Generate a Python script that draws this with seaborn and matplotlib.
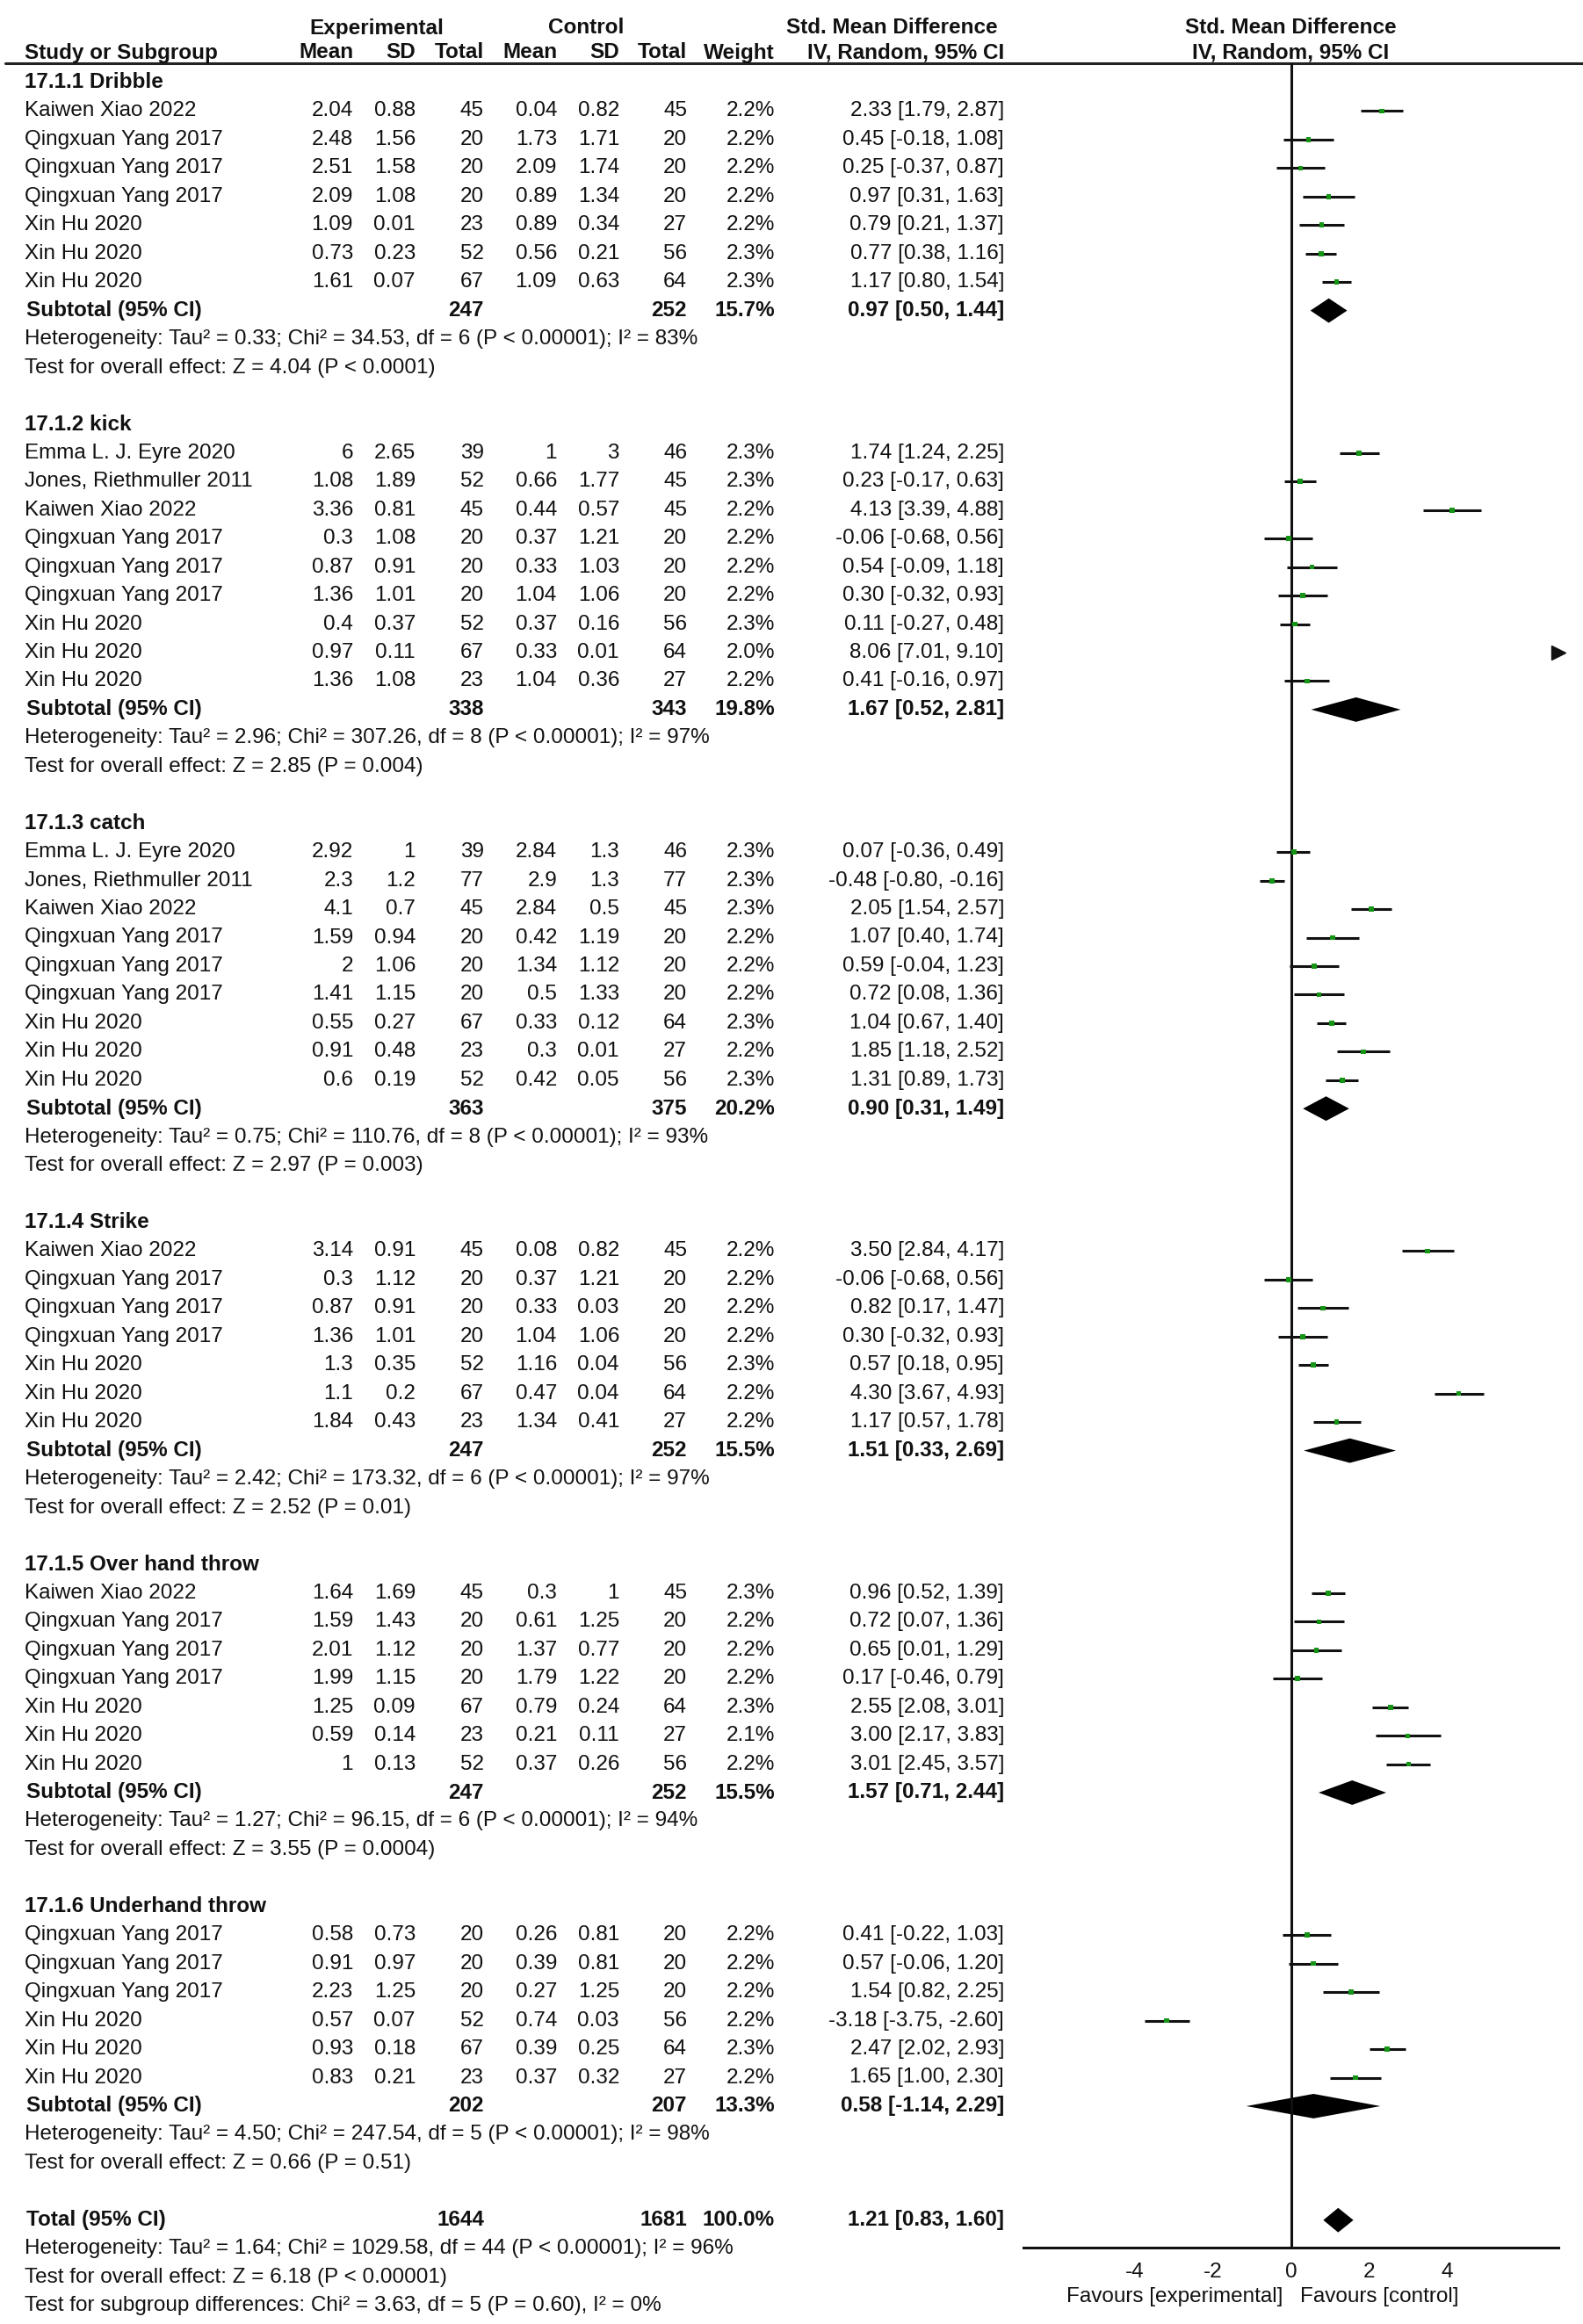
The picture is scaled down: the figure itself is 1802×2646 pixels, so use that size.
import numpy as np
import pandas as pd
import seaborn as sns
import matplotlib.pyplot as plt

# ---- data ----
group_titles = ["17.1.1 Dribble", "17.1.2 kick", "17.1.3 catch",
                "17.1.4 Strike", "17.1.5 Over hand throw", "17.1.6 Underhand throw"]
group_sizes = [7, 9, 9, 7, 7, 6]

study_names = [
    "Kaiwen Xiao 2022", "Qingxuan Yang 2017", "Qingxuan Yang 2017", "Qingxuan Yang 2017",
    "Xin Hu 2020", "Xin Hu 2020", "Xin Hu 2020",
    "Emma L. J. Eyre 2020", "Jones, Riethmuller 2011", "Kaiwen Xiao 2022", "Qingxuan Yang 2017",
    "Qingxuan Yang 2017", "Qingxuan Yang 2017", "Xin Hu 2020", "Xin Hu 2020", "Xin Hu 2020",
    "Emma L. J. Eyre 2020", "Jones, Riethmuller 2011", "Kaiwen Xiao 2022", "Qingxuan Yang 2017",
    "Qingxuan Yang 2017", "Qingxuan Yang 2017", "Xin Hu 2020", "Xin Hu 2020", "Xin Hu 2020",
    "Kaiwen Xiao 2022", "Qingxuan Yang 2017", "Qingxuan Yang 2017", "Qingxuan Yang 2017",
    "Xin Hu 2020", "Xin Hu 2020", "Xin Hu 2020",
    "Kaiwen Xiao 2022", "Qingxuan Yang 2017", "Qingxuan Yang 2017", "Qingxuan Yang 2017",
    "Xin Hu 2020", "Xin Hu 2020", "Xin Hu 2020",
    "Qingxuan Yang 2017", "Qingxuan Yang 2017", "Qingxuan Yang 2017",
    "Xin Hu 2020", "Xin Hu 2020", "Xin Hu 2020",
]
exp_mean = [2.04, 2.48, 2.51, 2.09, 1.09, 0.73, 1.61,
            6, 1.08, 3.36, 0.3, 0.87, 1.36, 0.4, 0.97, 1.36,
            2.92, 2.3, 4.1, 1.59, 2, 1.41, 0.55, 0.91, 0.6,
            3.14, 0.3, 0.87, 1.36, 1.3, 1.1, 1.84,
            1.64, 1.59, 2.01, 1.99, 1.25, 0.59, 1,
            0.58, 0.91, 2.23, 0.57, 0.93, 0.83]
exp_sd = [0.88, 1.56, 1.58, 1.08, 0.01, 0.23, 0.07,
          2.65, 1.89, 0.81, 1.08, 0.91, 1.01, 0.37, 0.11, 1.08,
          1, 1.2, 0.7, 0.94, 1.06, 1.15, 0.27, 0.48, 0.19,
          0.91, 1.12, 0.91, 1.01, 0.35, 0.2, 0.43,
          1.69, 1.43, 1.12, 1.15, 0.09, 0.14, 0.13,
          0.73, 0.97, 1.25, 0.07, 0.18, 0.21]
exp_n = [45, 20, 20, 20, 23, 52, 67,
         39, 52, 45, 20, 20, 20, 52, 67, 23,
         39, 77, 45, 20, 20, 20, 67, 23, 52,
         45, 20, 20, 20, 52, 67, 23,
         45, 20, 20, 20, 67, 23, 52,
         20, 20, 20, 52, 67, 23]
ctl_mean = [0.04, 1.73, 2.09, 0.89, 0.89, 0.56, 1.09,
            1, 0.66, 0.44, 0.37, 0.33, 1.04, 0.37, 0.33, 1.04,
            2.84, 2.9, 2.84, 0.42, 1.34, 0.5, 0.33, 0.3, 0.42,
            0.08, 0.37, 0.33, 1.04, 1.16, 0.47, 1.34,
            0.3, 0.61, 1.37, 1.79, 0.79, 0.21, 0.37,
            0.26, 0.39, 0.27, 0.74, 0.39, 0.37]
ctl_sd = [0.82, 1.71, 1.74, 1.34, 0.34, 0.21, 0.63,
          3, 1.77, 0.57, 1.21, 1.03, 1.06, 0.16, 0.01, 0.36,
          1.3, 1.3, 0.5, 1.19, 1.12, 1.33, 0.12, 0.01, 0.05,
          0.82, 1.21, 0.03, 1.06, 0.04, 0.04, 0.41,
          1, 1.25, 0.77, 1.22, 0.24, 0.11, 0.26,
          0.81, 0.81, 1.25, 0.03, 0.25, 0.32]
ctl_n = [45, 20, 20, 20, 27, 56, 64,
         46, 45, 45, 20, 20, 20, 56, 64, 27,
         46, 77, 45, 20, 20, 20, 64, 27, 56,
         45, 20, 20, 20, 56, 64, 27,
         45, 20, 20, 20, 64, 27, 56,
         20, 20, 20, 56, 64, 27]
weight = [2.2, 2.2, 2.2, 2.2, 2.2, 2.3, 2.3,
          2.3, 2.3, 2.2, 2.2, 2.2, 2.2, 2.3, 2.0, 2.2,
          2.3, 2.3, 2.3, 2.2, 2.2, 2.2, 2.3, 2.2, 2.3,
          2.2, 2.2, 2.2, 2.2, 2.3, 2.2, 2.2,
          2.3, 2.2, 2.2, 2.2, 2.3, 2.1, 2.2,
          2.2, 2.2, 2.2, 2.2, 2.3, 2.2]
smd = [2.33, 0.45, 0.25, 0.97, 0.79, 0.77, 1.17,
       1.74, 0.23, 4.13, -0.06, 0.54, 0.30, 0.11, 8.06, 0.41,
       0.07, -0.48, 2.05, 1.07, 0.59, 0.72, 1.04, 1.85, 1.31,
       3.50, -0.06, 0.82, 0.30, 0.57, 4.30, 1.17,
       0.96, 0.72, 0.65, 0.17, 2.55, 3.00, 3.01,
       0.41, 0.57, 1.54, -3.18, 2.47, 1.65]
ci_lo = [1.79, -0.18, -0.37, 0.31, 0.21, 0.38, 0.80,
         1.24, -0.17, 3.39, -0.68, -0.09, -0.32, -0.27, 7.01, -0.16,
         -0.36, -0.80, 1.54, 0.40, -0.04, 0.08, 0.67, 1.18, 0.89,
         2.84, -0.68, 0.17, -0.32, 0.18, 3.67, 0.57,
         0.52, 0.07, 0.01, -0.46, 2.08, 2.17, 2.45,
         -0.22, -0.06, 0.82, -3.75, 2.02, 1.00]
ci_hi = [2.87, 1.08, 0.87, 1.63, 1.37, 1.16, 1.54,
         2.25, 0.63, 4.88, 0.56, 1.18, 0.93, 0.48, 9.10, 0.97,
         0.49, -0.16, 2.57, 1.74, 1.23, 1.36, 1.40, 2.52, 1.73,
         4.17, 0.56, 1.47, 0.93, 0.95, 4.93, 1.78,
         1.39, 1.36, 1.29, 0.79, 3.01, 3.83, 3.57,
         1.03, 1.20, 2.25, -2.60, 2.93, 2.30]

sub_exp_n = [247, 338, 363, 247, 247, 202]
sub_ctl_n = [252, 343, 375, 252, 252, 207]
sub_weight = [15.7, 19.8, 20.2, 15.5, 15.5, 13.3]
sub_smd = [0.97, 1.67, 0.90, 1.51, 1.57, 0.58]
sub_lo = [0.50, 0.52, 0.31, 0.33, 0.71, -1.14]
sub_hi = [1.44, 2.81, 1.49, 2.69, 2.44, 2.29]
sub_tau2 = [0.33, 2.96, 0.75, 2.42, 1.27, 4.50]
sub_chi2 = [34.53, 307.26, 110.76, 173.32, 96.15, 247.54]
sub_df = [6, 8, 8, 6, 6, 5]
sub_i2 = [83, 97, 93, 97, 94, 98]
sub_z = [4.04, 2.85, 2.97, 2.52, 3.55, 0.66]
sub_p = ["P < 0.0001", "P = 0.004", "P = 0.003", "P = 0.01", "P = 0.0004", "P = 0.51"]

total_exp_n, total_ctl_n, total_weight = 1644, 1681, 100.0
total_smd, total_lo, total_hi = 1.21, 0.83, 1.60
total_het = "Heterogeneity: Tau² = 1.64; Chi² = 1029.58, df = 44 (P < 0.00001); I² = 96%"
total_test = "Test for overall effect: Z = 6.18 (P < 0.00001)"
subgroup_test = "Test for subgroup differences: Chi² = 3.63, df = 5 (P = 0.60), I² = 0%"

# ---- layout (pixels) ----
W, H = 1802, 2646
ROW0, PITCH = 94, 32.45
XMIN, XMAX = -6.85, 6.85
FS = 17.5


def prow(y):
    return (y - ROW0) / PITCH


# row index of every line of the table
title_rows, study_rows, sub_rows = [], [], []
r = 0
for n in group_sizes:
    title_rows.append(r)
    r += 1
    for k in range(n):
        study_rows.append(r)
        r += 1
    sub_rows.append(r)
    r += 4
total_row = r

df = pd.DataFrame({"name": study_names, "smd": smd, "lo": ci_lo, "hi": ci_hi,
                   "weight": weight, "row": study_rows})

sns.set_style("white")
plt.rcParams["font.family"] = ["Liberation Sans", "DejaVu Sans"]
plt.rcParams["axes.unicode_minus"] = False

fig = plt.figure(figsize=(W / 100, H / 100), dpi=100)

# table axes: x in pixels, y in rows
tab = fig.add_axes([0, 0, 1, 1])
tab.set_xlim(0, W)
tab.set_ylim(prow(H), prow(0))
tab.axis("off")

# forest axes
fx0, fx1, fy0, fy1 = 1165, 1774, 72, 2559
ax = fig.add_axes([fx0 / W, 1 - fy1 / H, (fx1 - fx0) / W, (fy1 - fy0) / H])
ax.set_xlim(XMIN, XMAX)
ax.set_ylim(prow(fy1), prow(fy0))
ax.patch.set_alpha(0)

col_name = 28
col_em, col_es, col_en = 402, 473, 551
col_cm, col_cs, col_cn = 634, 705, 782
col_w, col_ci = 882, 1143


def txt(x, row, s, ha="right", bold=False):
    tab.text(x, row, s, ha=ha, va="center", fontsize=FS,
             fontweight="bold" if bold else "normal", color="#111111")


def fmt_ci(e, lo, hi):
    return f"{e:.2f} [{lo:.2f}, {hi:.2f}]"


# header
h1, h2 = prow(32), prow(60)
txt(429, h1, "Experimental", ha="center", bold=True)
txt(667, h1, "Control", ha="center", bold=True)
txt(1015, h1, "Std. Mean Difference", ha="center", bold=True)
txt(1469, h1, "Std. Mean Difference", ha="center", bold=True)
txt(col_name, h2, "Study or Subgroup", ha="left", bold=True)
for x, s in [(col_em, "Mean"), (col_es, "SD"), (col_en, "Total"), (col_cm, "Mean"),
             (col_cs, "SD"), (col_cn, "Total"), (col_w, "Weight"), (col_ci, "IV, Random, 95% CI")]:
    txt(x, h2, s, bold=True)
txt(1469, h2, "IV, Random, 95% CI", ha="center", bold=True)
tab.axhline(prow(72), xmin=6 / W, xmax=1, color="#222222", lw=2.2)

# study rows
for i in range(len(study_names)):
    rr = study_rows[i]
    txt(col_name, rr, study_names[i], ha="left")
    txt(col_em, rr, f"{exp_mean[i]:g}")
    txt(col_es, rr, f"{exp_sd[i]:g}")
    txt(col_en, rr, f"{exp_n[i]}")
    txt(col_cm, rr, f"{ctl_mean[i]:g}")
    txt(col_cs, rr, f"{ctl_sd[i]:g}")
    txt(col_cn, rr, f"{ctl_n[i]}")
    txt(col_w, rr, f"{weight[i]:.1f}%")
    txt(col_ci, rr, fmt_ci(smd[i], ci_lo[i], ci_hi[i]))

# subgroup rows
for g in range(len(group_titles)):
    txt(col_name, title_rows[g], group_titles[g], ha="left", bold=True)
    sr = sub_rows[g]
    txt(col_name + 2, sr, "Subtotal (95% CI)", ha="left", bold=True)
    txt(col_en, sr, f"{sub_exp_n[g]}", bold=True)
    txt(col_cn, sr, f"{sub_ctl_n[g]}", bold=True)
    txt(col_w, sr, f"{sub_weight[g]:.1f}%", bold=True)
    txt(col_ci, sr, fmt_ci(sub_smd[g], sub_lo[g], sub_hi[g]), bold=True)
    txt(col_name, sr + 1, f"Heterogeneity: Tau² = {sub_tau2[g]:.2f}; Chi² = {sub_chi2[g]:.2f}, "
        f"df = {sub_df[g]} (P < 0.00001); I² = {sub_i2[g]}%", ha="left")
    txt(col_name, sr + 2, f"Test for overall effect: Z = {sub_z[g]:.2f} ({sub_p[g]})", ha="left")

# overall
txt(col_name + 2, total_row, "Total (95% CI)", ha="left", bold=True)
txt(col_en, total_row, f"{total_exp_n}", bold=True)
txt(col_cn, total_row, f"{total_ctl_n}", bold=True)
txt(col_w, total_row, f"{total_weight:.1f}%", bold=True)
txt(col_ci, total_row, fmt_ci(total_smd, total_lo, total_hi), bold=True)
txt(col_name, total_row + 1, total_het, ha="left")
txt(col_name, total_row + 2, total_test, ha="left")
txt(col_name, total_row + 3, subgroup_test, ha="left")

# ---- forest ----
ax.axvline(0, color="#111111", lw=2.2)
inside = df[df["lo"] < XMAX]
ax.hlines(inside["row"], inside["lo"].clip(XMIN, XMAX), inside["hi"].clip(XMIN, XMAX),
          color="#111111", lw=2.2)
sns.scatterplot(data=inside, x="smd", y="row", size="weight", sizes=(14, 18),
                marker="s", color="#169416", linewidth=0, legend=False, ax=ax, zorder=3)
outside = df[df["lo"] >= XMAX]
ax.plot(np.full(len(outside), XMAX), outside["row"], ls="none", marker=">",
        ms=11, color="#111111", clip_on=False)

hh = 0.43
diam_est = sub_smd + [total_smd]
diam_lo = sub_lo + [total_lo]
diam_hi = sub_hi + [total_hi]
diam_row = sub_rows + [total_row]
for e, lo, hi, rr in zip(diam_est, diam_lo, diam_hi, diam_row):
    ax.fill([lo, e, hi, e], [rr, rr - hh, rr, rr + hh], color="#000000", lw=0)

ax.set_xlabel("")
ax.set_ylabel("")
ax.set_yticks([])
ax.set_xticks([-4, -2, 0, 2, 4])
ax.set_xticklabels(["-4", "-2", "0", "2", "4"])
ax.tick_params(axis="x", direction="inout", length=12, width=2, pad=6,
               labelsize=FS, colors="#111111")
for s in ["top", "left", "right"]:
    ax.spines[s].set_visible(False)
ax.spines["bottom"].set_linewidth(2.2)
ax.spines["bottom"].set_color("#111111")

txt(1460, prow(2615), "Favours [experimental]", ha="right")
txt(1480, prow(2615), "Favours [control]", ha="left")

fig.savefig("out.png", dpi=100, facecolor="white")
